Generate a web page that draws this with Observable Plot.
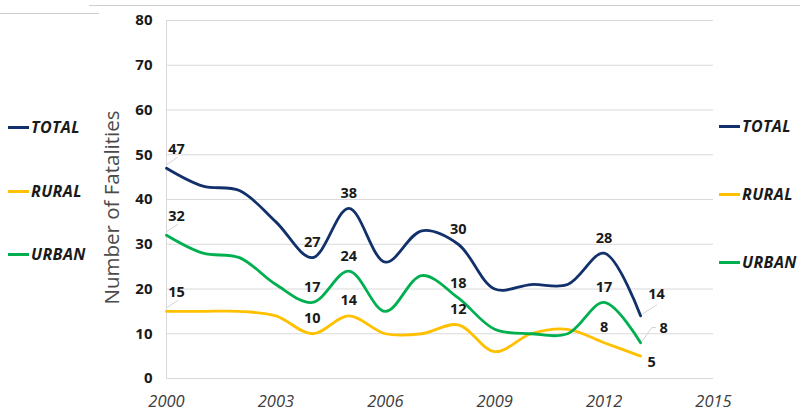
<!DOCTYPE html>
<html>
<head>
<meta charset="utf-8">
<script src="https://cdn.jsdelivr.net/npm/d3@7"></script>
<script src="https://cdn.jsdelivr.net/npm/@observablehq/plot@0.6"></script>
<style>
  html, body { margin: 0; padding: 0; background: #fff; }
  #wrap { position: relative; width: 800px; height: 417px; overflow: hidden; font-family: "Open Sans", sans-serif; }
  .rule { position: absolute; height: 1px; background: #cfcfcf; }
  .leg { position: absolute; display: flex; align-items: center; font-weight: bold; font-style: italic; font-size: 16px; letter-spacing: 0.4px; color: #1a1a1a; }
  .leg .sw { width: 21px; height: 3px; margin-right: 2px; }
  #chart { position: absolute; left: 0; top: 0; }
</style>
</head>
<body>
<div id="wrap">
  <div class="rule" style="left:0;top:13px;width:99px;"></div>
  <div class="rule" style="left:89px;top:5px;width:711px;"></div>
  <div id="chart"></div>
</div>
<script>
const years = [2000, 2001, 2002, 2003, 2004, 2005, 2006, 2007, 2008, 2009, 2010, 2011, 2012, 2013];
const total = [47, 43, 42, 35, 27, 38, 26, 33, 30, 20, 21, 21, 28, 14];
const rural = [15, 15, 15, 14, 10, 14, 10, 10, 12, 6, 10, 11, 8, 5];
const urban = [32, 28, 27, 21, 17, 24, 15, 23, 18, 11, 10, 10, 17, 8];
const seriesNames = ["TOTAL", "RURAL", "URBAN"];
const seriesColors = ["#12306b", "#ffc000", "#00b050"];
const labeledYears = [2000, 2004, 2005, 2008, 2012, 2013];
const xTicks = [2000, 2003, 2006, 2009, 2012, 2015];
const yTicks = [0, 10, 20, 30, 40, 50, 60, 70, 80];
const yTitle = "Number of Fatalities";

const seriesValues = [total, rural, urban];
const data = [];
seriesNames.forEach((s, i) => years.forEach((y, j) => data.push({series: s, year: y, value: seriesValues[i][j]})));

const lab = data.filter(d => labeledYears.includes(d.year));
const mid = lab.filter(d => d.year !== 2000 && d.year !== 2013);
const first = lab.filter(d => d.year === 2000);
const last = lab.filter(d => d.year === 2013);
const lastT = last.filter(d => d.series === "TOTAL");
const lastU = last.filter(d => d.series === "URBAN");
const lastR = last.filter(d => d.series === "RURAL");

const labelFont = {fontSize: 14.5, fontWeight: "bold", fill: "#1a1a1a", fontFamily: "Open Sans"};
const leaderStyle = {stroke: "#c8c8c8", strokeWidth: 0.8};

const chart = Plot.plot({
  width: 800,
  height: 417,
  marginLeft: 166,
  marginRight: 87,
  marginTop: 20,
  marginBottom: 39,
  style: {fontFamily: "Open Sans", background: "transparent"},
  x: {domain: [2000, 2015]},
  y: {domain: [0, 80]},
  color: {domain: seriesNames, range: seriesColors},
  marks: [
    Plot.gridY(yTicks, {stroke: "#d9d9d9", strokeOpacity: 1}),
    Plot.ruleX([2000], {stroke: "#d9d9d9"}),
    Plot.ruleY([0], {stroke: "#d9d9d9"}),
    Plot.axisY(yTicks, {tickSize: 0, tickPadding: 14, fontSize: 15, fontWeight: "bold", fill: "#1a1a1a", label: null}),
    Plot.axisX(xTicks, {tickSize: 0, tickPadding: 17, fontSize: 16.5, fontStyle: "italic", fill: "#404040", tickFormat: d => String(d), label: null}),
    Plot.text([yTitle], {frameAnchor: "left", textAnchor: "middle", dx: -54, dy: 8, rotate: -90, fontSize: 20.5, fill: "#4a4a4a", text: d => d}),
    Plot.line(data, {x: "year", y: "value", z: "series", stroke: "series", strokeWidth: 2.8, curve: "catmull-rom"}),
    // leaders at 2000
    Plot.link(first, {x1: "year", y1: d => d.value + 0.8, x2: d => d.year + 0.32, y2: d => d.value + 2.5, ...leaderStyle}),
    // leaders at 2013
    Plot.link(lastT, {x1: d => d.year + 0.05, y1: d => d.value + 0.4, x2: d => d.year + 0.45, y2: d => d.value + 2.5, ...leaderStyle}),
    Plot.link(lastU, {x1: d => d.year + 0.05, y1: d => d.value + 0.4, x2: d => d.year + 0.31, y2: d => d.value + 3.4, ...leaderStyle}),
    Plot.link(lastU, {x1: d => d.year + 0.31, y1: d => d.value + 3.4, x2: d => d.year + 0.42, y2: d => d.value + 3.4, ...leaderStyle}),
    // labels
    Plot.text(mid, {x: "year", y: "value", text: d => String(d.value), dy: -15, ...labelFont}),
    Plot.text(first, {x: "year", y: "value", text: d => String(d.value), dx: 10, dy: -19, ...labelFont}),
    Plot.text(lastT, {x: "year", y: "value", text: d => String(d.value), dx: 16, dy: -21, ...labelFont}),
    Plot.text(lastU, {x: "year", y: "value", text: d => String(d.value), dx: 23, dy: -14, ...labelFont}),
    Plot.text(lastR, {x: "year", y: "value", text: d => String(d.value), dx: 11, dy: 6, ...labelFont})
  ]
});
document.getElementById("chart").appendChild(chart);

function legend(el, left, tops) {
  seriesNames.forEach((s, i) => {
    const d = document.createElement("div");
    d.className = "leg";
    d.style.left = left + "px";
    d.style.top = (tops[i] - 11) + "px";
    d.innerHTML = `<span class="sw" style="background:${seriesColors[i]}"></span><span>${s}</span>`;
    el.appendChild(d);
  });
}
const wrap = document.getElementById("wrap");
legend(wrap, 8, [127, 191, 254]);
legend(wrap, 719, [126, 194, 262]);
</script>
</body>
</html>
